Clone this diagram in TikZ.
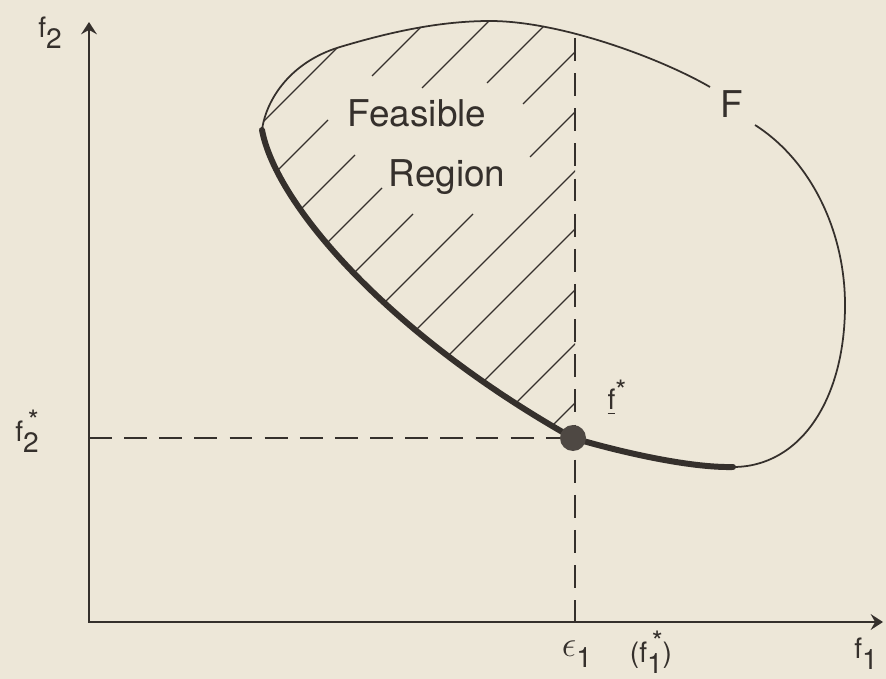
\documentclass[tikz,border=0pt]{standalone}
\usepackage{amsmath}
\usepackage{graphicx}
\usepackage{fontspec}
\setmainfont{TeX Gyre Heros}
\usetikzlibrary{arrows.meta}
\definecolor{paper}{HTML}{EDE7D8}
\definecolor{ink}{HTML}{35302C}
\definecolor{dotink}{HTML}{4E4843}
\newcommand\lowsub[2]{#1\raisebox{-0.4em}{#2}}
\newcommand\lowsubstar[2]{#1\raisebox{-0.4em}{#2}\makebox[0pt][r]{\raisebox{0.4em}{*}}}

\begin{document}
\begin{tikzpicture}[
    x=0.02cm,y=-0.02cm,
    ax/.style  = {{Stealth[length=7pt,width=9pt,inset=2.5pt]}-{Stealth[length=7pt,width=9pt,inset=2.5pt]},
                  ink,line width=1.1pt},
    dsh/.style = {ink,line width=1.1pt,dash pattern=on 13pt off 7pt},
    thn/.style = {ink,line width=1pt},
    thk/.style = {ink,line width=3.4pt,line cap=round},
    hat/.style = {ink,line width=0.75pt},
    lbl/.style = {text=ink,font=\fontsize{16}{18}\selectfont,inner sep=0pt},
    big/.style = {text=ink,font=\fontsize{21}{24}\selectfont,inner sep=0pt},
  ]

  \fill[paper] (0,0) rectangle (886,679);
  \useasboundingbox (0,0) rectangle (886,679);

  \coordinate (o)     at (89,622);
  \coordinate (ytip)  at (89,22);
  \coordinate (xtip)  at (883,622);
  \coordinate (fs)    at (573,438);
  \coordinate (etop)  at (575,38);
  \coordinate (efoot) at (575,622);
  \coordinate (fleft) at (89,438);
  \coordinate (tipL)  at (262,130);
  \coordinate (gapA)  at (710,87);
  \coordinate (gapB)  at (755,125);
  \coordinate (lowB)  at (733,467);

  % hatching of the feasible region
  \begin{scope}
    \clip (89,0) rectangle (575,622);
    \clip (tipL) .. controls (266,100) and (290,62) .. (340,47)
                 .. controls (390,32) and (440,21) .. (490,21)
                 .. controls (560,21) and (660,58) .. (gapA) -- (gapB)
                 .. controls (810,160) and (845,230) .. (845,305)
                 .. controls (845,400) and (800,467) .. (lowB)
                 .. controls (690,468) and (620,452) .. (fs)
                 .. controls (390,335) and (276,205) .. (tipL) -- cycle;
    \foreach \c/\xa/\xb in {385/200/600, 448/200/328, 448/372/600, 510/200/355,
                            510/422/600, 570/200/382, 570/487/600, 627/200/413,
                            627/523/600, 687/200/473, 687/530/600, 746/200/600,
                            804/200/600, 865/200/600, 919/200/600, 978/200/600}
      \draw[hat] ({\xa},{\c-\xa}) -- ({\xb},{\c-\xb});
  \end{scope}

  % axes and dashed guides
  \draw[ax] (ytip) -- (o) -- (xtip);
  \draw[dsh] (etop) -- (efoot);
  \draw[dsh] (fleft) -- (fs);

  % boundary of F
  \draw[thn] (tipL) .. controls (266,100) and (290,62) .. (340,47)
                    .. controls (390,32) and (440,21) .. (490,21)
                    .. controls (560,21) and (660,58) .. (gapA);
  \draw[thn] (gapB) .. controls (810,160) and (845,230) .. (845,305)
                    .. controls (845,400) and (800,467) .. (lowB);
  \draw[thk] (tipL) .. controls (276,205) and (390,335) .. (fs)
                    .. controls (620,452) and (690,468) .. (lowB);
  \fill[dotink] (fs) circle[radius=0.26cm];

  % labels
  \node[big,anchor=base] (feas) at (417,127) {Feasible};
  \node[big,anchor=base] (reg)  at (447,187) {Region};
  \node[big] (fF)    at (732,104) {F};
  \node[lbl] (f2)    at (50,33)   {\lowsub{f}{2}};
  \node[lbl] (f2s)   at (27,431)  {\lowsubstar{f}{2}};
  \node[lbl] (fstar) at (617,398) {\underline{f}\raisebox{0.3em}{*}};
  \node[lbl] (e1)    at (577,654) {\scalebox{1.2}{$\epsilon$}\raisebox{-0.4em}{1}};
  \node[lbl] (f1s)   at (651,652) {(\lowsubstar{f}{1})};
  \node[lbl] (f1)    at (866,654) {\lowsub{f}{1}};

\end{tikzpicture}
\end{document}
